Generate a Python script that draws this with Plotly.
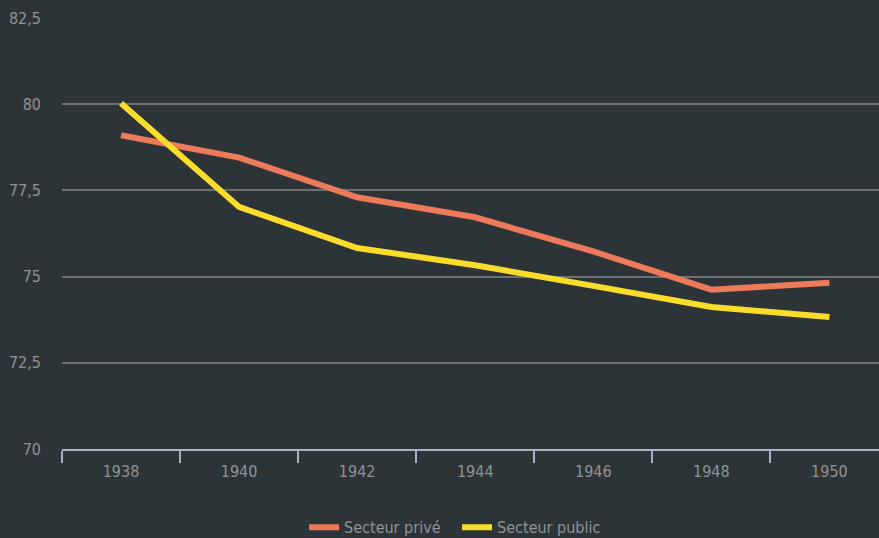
import plotly.graph_objects as go

years = ["1938", "1940", "1942", "1944", "1946", "1948", "1950"]
prive = [79.1, 78.45, 77.3, 76.72, 75.73, 74.62, 74.82]
public = [80.03, 77.02, 75.83, 75.33, 74.73, 74.12, 73.83]
yticks = [70, 72.5, 75, 77.5, 80, 82.5]
ytick_text = ["70", "72,5", "75", "77,5", "80", "82,5"]

bg = "#2d3437"
font = "DejaVu Sans Condensed, Roboto, sans-serif"

fig = go.Figure()
fig.add_trace(go.Scatter(x=years, y=prive, mode="lines", name="Secteur privé",
                         line=dict(color="#ee7a5c", width=6)))
fig.add_trace(go.Scatter(x=years, y=public, mode="lines", name="Secteur public",
                         line=dict(color="#fadd2a", width=6)))

fig.update_layout(
    width=879, height=538,
    paper_bgcolor=bg, plot_bgcolor=bg,
    margin=dict(l=62, r=0, t=18, b=89),
    font=dict(family=font, color="#8f9396", size=16),
    showlegend=True,
    legend=dict(orientation="h", x=0.52, xanchor="center", xref="container",
                y=0.02, yanchor="middle", yref="container",
                entrywidth=108, entrywidthmode="pixels",
                font=dict(size=16, color="#8f9396")),
)
fig.update_xaxes(
    type="category", range=[-0.5, 6.42], tickson="boundaries",
    ticks="outside", ticklen=12, tickcolor="#a9b1c2", tickwidth=2,
    showline=True, linecolor="#a9b1c2", linewidth=2, ticklabelstandoff=7,
    showgrid=False, zeroline=False, tickfont=dict(size=16, color="#8f9396"),
)
fig.update_yaxes(
    range=[70, 82.5], tickvals=yticks, ticktext=ytick_text,
    showgrid=True, gridcolor="#6d7073", gridwidth=1.5,
    zeroline=False, showline=False, ticks="", ticklabelstandoff=20,
    tickfont=dict(size=16, color="#8f9396"),
)
fig.write_html("out.html", config={"displayModeBar": False},
               post_script="document.body.style.margin='0';document.body.style.background='%s';" % bg)
